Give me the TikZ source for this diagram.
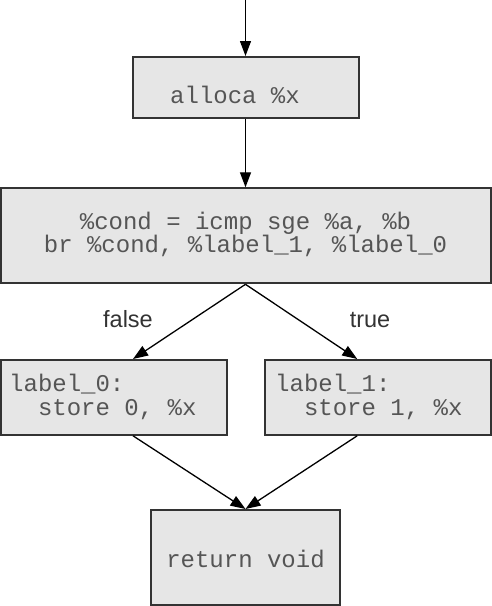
\documentclass[tikz,border=0pt]{standalone}
\usepackage{fontspec}
\setmainfont{Liberation Sans}
\newfontfamily\codefont{Liberation Mono}
\usetikzlibrary{arrows.meta}
\definecolor{boxfill}{HTML}{E6E6E6}
\definecolor{boxline}{HTML}{333333}
\definecolor{codegray}{HTML}{555555}
\definecolor{labgray}{HTML}{333333}
\begin{document}
\begin{tikzpicture}[x=1pt,y=-1pt,
  blk/.style={draw=boxline,fill=boxfill,line width=2pt,inner sep=0pt},
  code/.style={font=\codefont\fontsize{24}{24}\selectfont,text=codegray,inner sep=0pt},
  edgelab/.style={font=\fontsize{23.5}{24}\selectfont,text=labgray,inner sep=0pt,anchor=base},
  flow/.style={draw=black,line width=1.3pt,-{Triangle[length=15pt,width=11pt]}}]
\useasboundingbox (0,0) rectangle (492,606);
% blocks
\node[blk,minimum width=226pt,minimum height=60.5pt] (alloca) at (245.5,87.25) {};
\node[blk,minimum width=490pt,minimum height=95pt] (cond) at (246,235.8) {};
\node[blk,minimum width=226pt,minimum height=74.8pt] (lab0) at (114,397.4) {};
\node[blk,minimum width=225.7pt,minimum height=74.8pt] (lab1) at (378.2,397.4) {};
\node[blk,minimum width=189pt,minimum height=95pt] (ret) at (245.5,557.5) {};
% texts
\node[code,anchor=base west] (t-alloca) at (170,103) {alloca\ \%x};
\node[code,anchor=base] (t-cond1) at (245.5,229) {\%cond = icmp sge \%a, \%b};
\node[code,anchor=base] (t-cond2) at (245.5,252.5) {br \%cond, \%label\_1, \%label\_0};
\node[code,anchor=base west] (t-l0a) at (9,391.5) {label\_0:};
\node[code,anchor=base west] (t-l0b) at (9,415) {\ \ store 0, \%x};
\node[code,anchor=base west] (t-l1a) at (275,391.5) {label\_1:};
\node[code,anchor=base west] (t-l1b) at (275,415) {\ \ store 1, \%x};
\node[code,anchor=base] (t-ret) at (245.5,567) {return void};
\node[edgelab] (lfalse) at (128,327) {false};
\node[edgelab] (ltrue) at (370,327) {true};
% connectors
\coordinate (entry) at (245.5,0);
\coordinate (in0) at ([xshift=19pt]lab0.north);
\coordinate (in1) at ([xshift=-21pt]lab1.north);
\coordinate (out0) at ([xshift=19pt]lab0.south);
\coordinate (out1) at ([xshift=-21pt]lab1.south);
\draw[flow] (entry) -- (alloca.north);
\draw[flow] (alloca.south) -- (cond.north -| alloca.south);
\draw[flow] (cond.south -| alloca.south) -- (in0);
\draw[flow] (cond.south -| alloca.south) -- (in1);
\draw[flow] (out0) -- (ret.north);
\draw[flow] (out1) -- (ret.north);
\end{tikzpicture}
\end{document}
